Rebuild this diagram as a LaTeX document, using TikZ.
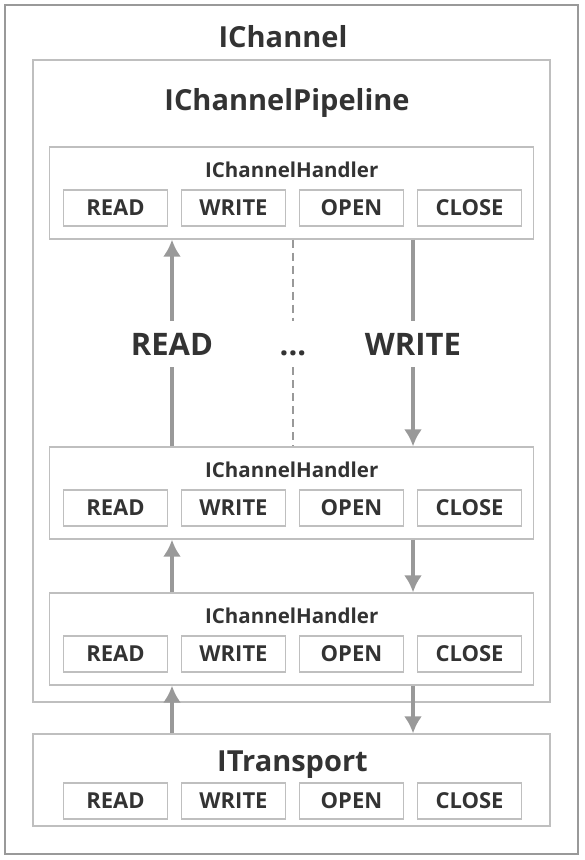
\documentclass[tikz,border=0pt]{standalone}
\usepackage{fontspec}
\setmainfont{Open Sans}
\usetikzlibrary{arrows.meta}

\definecolor{framecol}{HTML}{999999}
\definecolor{boxcol}{HTML}{BFBFBF}
\definecolor{textcol}{HTML}{333333}
\definecolor{arrowcol}{HTML}{999999}

\tikzset{
  frame/.style={draw=#1,line width=1.2pt,inner sep=0pt},
  title/.style={text=textcol,font=\fontsize{29}{30}\selectfont\bfseries,inner sep=0pt},
  handlertitle/.style={text=textcol,font=\fontsize{20.5}{22}\selectfont\bfseries,inner sep=0pt},
  opbox/.style={draw=boxcol,line width=1.2pt,minimum width=104pt,minimum height=36pt,
    inner sep=0pt,text=textcol,font=\fontsize{22}{23}\selectfont\bfseries},
  flowlabel/.style={text=textcol,font=\fontsize{31}{32}\selectfont\bfseries,inner sep=0pt,
    text height=22pt,text depth=0pt,minimum height=46pt},
  flow/.style={draw=arrowcol,line width=4pt},
  dots/.style={draw=arrowcol,line width=2.4pt,dash pattern=on 8pt off 5pt}
}

% one handler box with its four operations
\newcommand{\handlerbox}[4]{%
  \node[frame=boxcol,minimum width=#4pt,minimum height=92pt] (#1) at (291.75,#2+46) {};
  \node[handlertitle] (#1-title) at (291.75,#2+23) {#3};
  \foreach \op [count=\i] in {READ,WRITE,OPEN,CLOSE}
    \node[opbox] (#1-\i) at ({115.5+118*(\i-1)},#2+61) {\op};
}

\begin{document}
\begin{tikzpicture}[x=1pt,y=-1pt,>={Latex[length=17pt,width=18pt]}]
  \useasboundingbox (0,0) rectangle (585,860);

  % IChannel
  \node[frame=framecol,minimum width=573pt,minimum height=849pt] (channel) at (291.5,429.5) {};
  \node[title] (channel-title) at (283,37) {IChannel};

  % IChannelPipeline
  \node[frame=boxcol,minimum width=517pt,minimum height=642pt] (pipeline) at (291.5,381) {};
  \node[title] (pipeline-title) at (287,103) {IChannelPipeline};

  % handlers
  \handlerbox{handler1}{147}{IChannelHandler}{484}
  \handlerbox{handler2}{447}{IChannelHandler}{484}
  \handlerbox{handler3}{593}{IChannelHandler}{484}

  % ITransport
  \node[frame=boxcol,minimum width=517pt,minimum height=92pt] (transport) at (291.5,780) {};
  \node[title] (transport-title) at (292.5,765) {ITransport};
  \foreach \op [count=\i] in {READ,WRITE,OPEN,CLOSE}
    \node[opbox] (transport-\i) at ({115.5+118*(\i-1)},801) {\op};

  % labels between the first two handlers
  \node[flowlabel] (readlbl) at (172,344) {READ};
  \node[flowlabel] (morelbl) at (293,344) {...};
  \node[flowlabel] (writelbl) at (413,344) {WRITE};

  % READ goes up
  \draw[flow] (handler2.north -| readlbl) -- (readlbl.south);
  \draw[flow,->] (readlbl.north) -- (handler1.south -| readlbl);
  \draw[flow,->] (handler3.north -| readlbl) -- (handler2.south -| readlbl);
  \draw[flow,->] (transport.north -| readlbl) -- (handler3.south -| readlbl);

  % WRITE goes down
  \draw[flow] (handler1.south -| writelbl) -- (writelbl.north);
  \draw[flow,->] (writelbl.south) -- (handler2.north -| writelbl);
  \draw[flow,->] (handler2.south -| writelbl) -- (handler3.north -| writelbl);
  \draw[flow,->] (handler3.south -| writelbl) -- (transport.north -| writelbl);

  % more handlers
  \draw[dots] (handler1.south -| morelbl) -- (morelbl.north);
  \draw[dots] (morelbl.south) -- (handler2.north -| morelbl);
\end{tikzpicture}
\end{document}
